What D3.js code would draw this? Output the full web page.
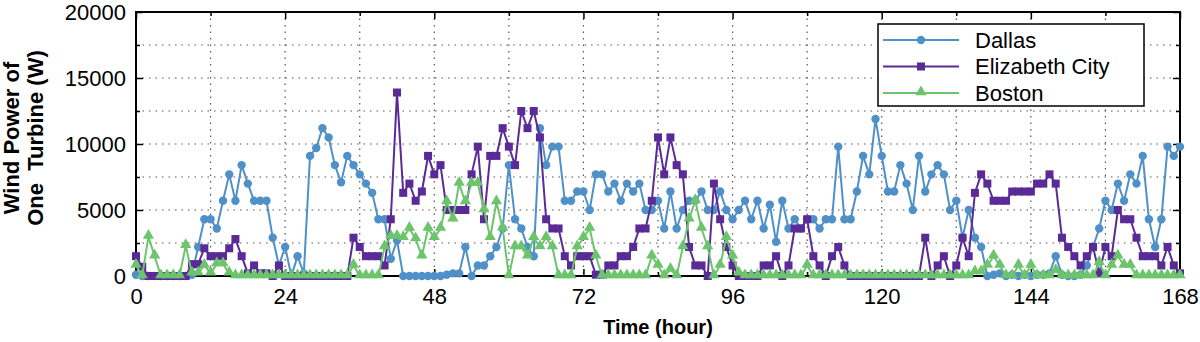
<!DOCTYPE html>
<html>
<head>
<meta charset="utf-8">
<script src="https://cdn.jsdelivr.net/npm/d3@7"></script>
<style>
  body { margin: 0; background: #fff; }
  svg { display: block; font-family: Arial, "Liberation Sans", sans-serif; }
  .grid line { stroke: #555; stroke-width: 1.2; stroke-dasharray: 1.5,5; }
</style>
</head>
<body>
<svg width="1200" height="342"></svg>
<script>
var hours = d3.range(0, 169);

// Dallas, hourly wind power (W)
var dallas = [
  100, 0, 0, 0, 0, 0, 0, 0, 0, 100,
  2200, 4300, 4300, 3600, 5700, 7700, 5700, 8400, 7000, 5700,
  5700, 5700, 2900, 800, 2200, 0, 1500, 200, 9100, 9700,
  11200, 10500, 8400, 7100, 9100, 8400, 7700, 7000, 6300, 4300,
  4300, 1300, 2700, 0, 0, 0, 0, 0, 0, 0,
  100, 200, 200, 2200, 0, 800, 800, 1500, 2200, 3600,
  8400, 4300, 3600, 2200, 1500, 11200, 8400, 9800, 9800, 5700,
  5700, 6400, 6400, 5000, 7700, 7700, 6400, 7000, 5700, 7000,
  6400, 7000, 5000, 5000, 5700, 3600, 6400, 3600, 5000, 5700,
  5700, 6400, 5000, 5000, 6400, 5000, 4300, 5000, 5700, 4300,
  5700, 3600, 5400, 2600, 5700, 3600, 4300, 3600, 4300, 4300,
  3600, 4300, 4300, 9800, 4300, 4300, 6400, 9100, 7700, 11900,
  9100, 6400, 6400, 8400, 7000, 5000, 9100, 6400, 7700, 8400,
  7700, 5000, 5700, 2900, 5000, 2900, 2200, 0, 100, 200,
  0, 100, 0, 100, 0, 100, 100, 200, 1500, 100,
  0, 0, 100, 800, 2200, 3600, 5700, 5000, 7000, 5700,
  7700, 7000, 9100, 4300, 2200, 4300, 9800, 9100, 9800
];

// Elizabeth City
var elizabeth = [
  1500, 700, 0, 0, 0, 0, 0, 0, 0, 900,
  900, 2100, 1500, 1500, 1500, 2100, 2800, 1500, 200, 800,
  200, 200, 0, 800, 0, 0, 0, 0, 0, 0,
  0, 0, 0, 0, 0, 2900, 2200, 1500, 1500, 1500,
  800, 4300, 13900, 6300, 7000, 5700, 6400, 9100, 7700, 8400,
  5000, 5000, 5000, 5000, 7700, 9800, 4300, 9100, 9100, 11200,
  9800, 8400, 12500, 11200, 12500, 10500, 4300, 3600, 3600, 1500,
  800, 1500, 1500, 1500, 100, 100, 800, 800, 1500, 1500,
  2200, 3600, 3600, 5700, 10500, 7700, 10500, 8400, 7700, 2200,
  800, 800, 0, 7000, 4300, 2200, 800, 0, 0, 0,
  0, 800, 800, 1500, 0, 800, 3600, 3600, 4300, 1500,
  800, 0, 1500, 2200, 800, 0, 0, 0, 0, 0,
  0, 0, 0, 0, 0, 0, 0, 2900, 0, 800,
  1500, 0, 800, 2900, 1500, 6300, 7700, 7000, 5700, 5700,
  5700, 6400, 6400, 6400, 6400, 7000, 7000, 7700, 7000, 2900,
  2200, 1500, 800, 1500, 2200, 200, 2200, 1500, 5000, 4300,
  4300, 2900, 1500, 1500, 1500, 800, 2200, 800, 200
];

// Boston
var boston = [
  800, 0, 3000, 1500, 0, 0, 0, 0, 2300, 200,
  200, 800, 200, 900, 900, 200, 0, 0, 0, 0,
  0, 0, 0, 0, 0, 0, 0, 0, 0, 0,
  0, 0, 0, 0, 0, 800, 0, 0, 0, 0,
  2200, 3000, 3000, 2900, 3600, 2800, 1500, 3600, 2900, 3600,
  5600, 4300, 7000, 5600, 7000, 7000, 5000, 2900, 5600, 3600,
  0, 2200, 2200, 1500, 2900, 2200, 2900, 2200, 0, 0,
  0, 2200, 2900, 3600, 1500, 0, 0, 0, 0, 0,
  0, 0, 0, 1500, 800, 0, 500, 0, 2200, 4300,
  5700, 3600, 2200, 0, 800, 2900, 1500, 200, 0, 0,
  0, 0, 0, 0, 0, 0, 0, 0, 800, 0,
  0, 0, 0, 0, 0, 0, 0, 0, 0, 0,
  0, 0, 0, 0, 0, 0, 0, 0, 0, 0,
  0, 0, 0, 0, 0, 300, 300, 800, 1500, 800,
  0, 0, 800, 0, 800, 0, 0, 0, 400, 0,
  0, 0, 0, 0, 0, 1000, 0, 800, 1500, 800,
  800, 0, 0, 0, 0, 0, 0, 0, 0
];

var seriesNames = ["Dallas", "Elizabeth City", "Boston"];
var seriesColors = ["#4f90c8", "#5a2a96", "#6cc46c"];
var seriesMarkers = ["circle", "square", "triangle"];
var xTicks = [0, 24, 48, 72, 96, 120, 144, 168];
var yTicks = [0, 5000, 10000, 15000, 20000];

var svg = d3.select("svg");
var margin = {left: 136, right: 20, top: 12, bottom: 66};
var W = 1200, H = 342;

var x = d3.scaleLinear().domain([0, 168]).range([margin.left, W - margin.right]);
var y = d3.scaleLinear().domain([0, 20000]).range([H - margin.bottom, margin.top]);

// grid
var grid = svg.append("g").attr("class", "grid");
grid.selectAll(".gx").data(d3.range(12, 168, 12)).enter().append("line")
    .attr("x1", d => x(d)).attr("x2", d => x(d))
    .attr("y1", y(20000)).attr("y2", y(0));
grid.selectAll(".gy").data(d3.range(2500, 20000, 2500)).enter().append("line")
    .attr("x1", x(0)).attr("x2", x(168))
    .attr("y1", d => y(d)).attr("y2", d => y(d));

// axes with inward ticks
function styleAxis(g) {
    g.select(".domain").remove();
    g.selectAll("line").attr("stroke", "#000").attr("stroke-width", 1.5);
    g.selectAll("text").attr("font-size", 22).attr("fill", "#000")
        .attr("font-family", "Arial, 'Liberation Sans', sans-serif");
}

svg.append("g").attr("transform", "translate(0," + y(0) + ")")
    .call(d3.axisBottom(x).tickValues(xTicks).tickSize(-7).tickPadding(12).tickFormat(d3.format("d")))
    .call(styleAxis);
svg.append("g").attr("transform", "translate(0," + y(0) + ")")
    .call(d3.axisBottom(x).tickValues(d3.range(12, 168, 24)).tickSize(-4).tickFormat(""))
    .call(styleAxis);
svg.append("g").attr("transform", "translate(0," + y(20000) + ")")
    .call(d3.axisTop(x).tickValues(xTicks).tickSize(-7).tickFormat(""))
    .call(styleAxis);
svg.append("g").attr("transform", "translate(0," + y(20000) + ")")
    .call(d3.axisTop(x).tickValues(d3.range(12, 168, 24)).tickSize(-4).tickFormat(""))
    .call(styleAxis);

svg.append("g").attr("transform", "translate(" + x(0) + ",0)")
    .call(d3.axisLeft(y).tickValues(yTicks).tickSize(-7).tickPadding(10).tickFormat(d3.format("d")))
    .call(styleAxis);
svg.append("g").attr("transform", "translate(" + x(0) + ",0)")
    .call(d3.axisLeft(y).tickValues(d3.range(2500, 20000, 5000)).tickSize(-4).tickFormat(""))
    .call(styleAxis);
svg.append("g").attr("transform", "translate(" + x(168) + ",0)")
    .call(d3.axisRight(y).tickValues(yTicks).tickSize(-7).tickFormat(""))
    .call(styleAxis);
svg.append("g").attr("transform", "translate(" + x(168) + ",0)")
    .call(d3.axisRight(y).tickValues(d3.range(2500, 20000, 5000)).tickSize(-4).tickFormat(""))
    .call(styleAxis);

// frame
svg.append("rect")
    .attr("x", x(0)).attr("y", y(20000))
    .attr("width", x(168) - x(0)).attr("height", y(0) - y(20000))
    .attr("fill", "none").attr("stroke", "#000").attr("stroke-width", 2);

// markers
function drawMarker(g, type, cx, cy, color) {
    if (type === "circle") {
        g.append("circle").attr("cx", cx).attr("cy", cy).attr("r", 4.2).attr("fill", color);
    } else if (type === "square") {
        g.append("rect").attr("x", cx - 4).attr("y", cy - 4).attr("width", 8).attr("height", 8).attr("fill", color);
    } else {
        g.append("path").attr("d", d3.symbol().type(d3.symbolTriangle).size(55)()).attr("transform", "translate(" + cx + "," + (cy - 1) + ")").attr("fill", color);
    }
}

var allSeries = [dallas, elizabeth, boston];
var line = d3.line().x((d, i) => x(hours[i])).y(d => y(d));

allSeries.forEach(function(vals, k) {
    var g = svg.append("g");
    g.append("path").datum(vals)
        .attr("d", line)
        .attr("fill", "none")
        .attr("stroke", seriesColors[k])
        .attr("stroke-width", 2);
    vals.forEach(function(v, i) {
        drawMarker(g, seriesMarkers[k], x(hours[i]), y(v), seriesColors[k]);
    });
});

// legend
var lg = svg.append("g");
lg.append("rect").attr("x", 878).attr("y", 24).attr("width", 266).attr("height", 82)
    .attr("fill", "#fff").attr("stroke", "#000").attr("stroke-width", 1.5);
seriesNames.forEach(function(name, k) {
    var ly = 40 + k * 26.5;
    lg.append("line").attr("x1", 883).attr("x2", 959).attr("y1", ly).attr("y2", ly)
        .attr("stroke", seriesColors[k]).attr("stroke-width", 2);
    drawMarker(lg, seriesMarkers[k], 921, ly, seriesColors[k]);
    lg.append("text").attr("x", 975).attr("y", ly + 7.5).attr("font-size", 22).text(name);
});

// axis titles
svg.append("text").attr("x", (x(0) + x(168)) / 2).attr("y", 334)
    .attr("text-anchor", "middle").attr("font-size", 20).attr("font-weight", "bold")
    .text("Time (hour)");
var yt = svg.append("text").attr("transform", "translate(19,138) rotate(-90)")
    .attr("text-anchor", "middle").attr("font-size", 22).attr("font-weight", "bold");
yt.append("tspan").attr("x", 0).attr("y", 0).text("Wind Power of");
yt.append("tspan").attr("x", 0).attr("y", 24).attr("xml:space", "preserve").text("One  Turbine (W)");
</script>
</body>
</html>
